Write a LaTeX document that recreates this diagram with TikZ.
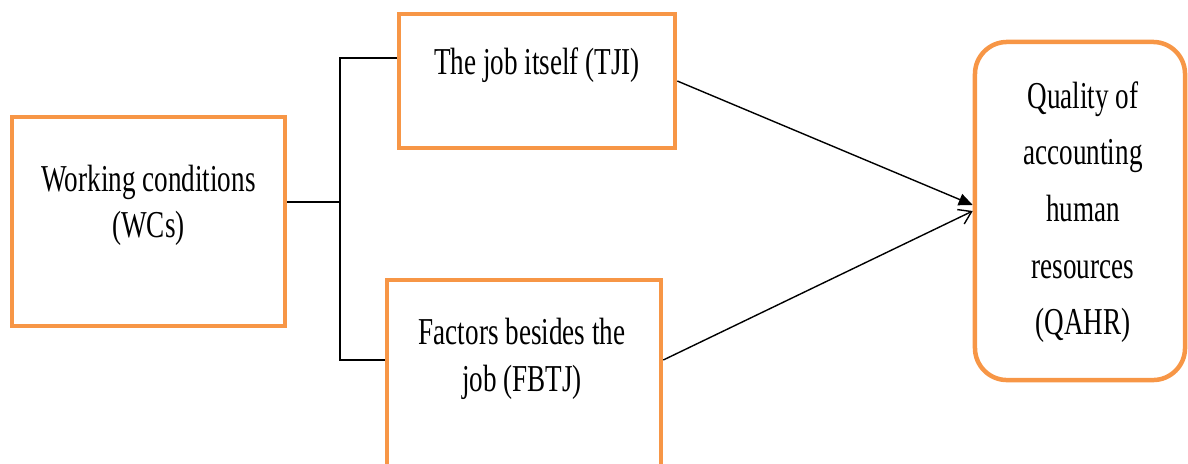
\documentclass[tikz,border=0pt]{standalone}
\usepackage{fontspec}
\setmainfont{Liberation Serif}
\usepackage{graphicx}
\usepackage{tikz}
\usetikzlibrary{arrows.meta}

\definecolor{boxorange}{RGB}{247,150,70}
\newcommand{\tallrow}[1]{\scalebox{1}[1.4]{#1}}

\begin{document}
\begin{tikzpicture}[x=0.025cm, y=-0.025cm,
		box/.style={draw=boxorange, line width=3.2pt, inner sep=0pt},
		words/.style={align=center, font=\fontsize{19.3}{32.7}\selectfont},
		link/.style={line width=1pt}]
			\clip (0,0) rectangle (1188,463);
			% boxes
			\node[box, minimum width=6.825cm, minimum height=5.225cm] (wc) at (148.5,221.5) {};
			\node[words] (wctext) at (148.5,205) {\tallrow{Working conditions}\\\tallrow{(WCs)}};
			\node[box, minimum width=6.9cm, minimum height=3.35cm] (tji) at (537,81) {};
			\node[words] (tjitext) at (537,65) {\tallrow{The job itself (TJI)}};
			\node[box, minimum width=6.85cm, minimum height=5.5cm] (fbtj) at (524,390) {};
			\node[words, font=\fontsize{19.3}{33.4}\selectfont] (fbtjtext) at (522,359) {\tallrow{Factors besides the}\\\tallrow{job (FBTJ)}};
			\node[box, rounded corners=0.8cm, minimum width=5.25cm, minimum height=8.45cm] (qahr) at (1080,211) {};
			\node[words, font=\fontsize{19.3}{40.3}\selectfont] (qahrtext) at (1083,212) {\tallrow{Quality of}\\\tallrow{accounting}\\\tallrow{human}\\\tallrow{resources}\\\tallrow{(QAHR)}};
			% connectors
			\coordinate (wcout) at ([yshift=0.49cm]wc.east);
			\coordinate (tjiin) at ([yshift=0.575cm]tji.west);
			\coordinate (fbtjin) at ([yshift=0.75cm]fbtj.west);
			\coordinate (fbtjout) at ([yshift=0.75cm]fbtj.east);
			\coordinate (split) at (wcout -| 340,0);
			\draw[link] (wcout) -- (split);
			\draw[link] (tjiin) -| (split) |- (fbtjin);
			\draw[link, -{Triangle[length=0.35cm, width=0.3cm]}] (tji.east) -- ([yshift=0.15cm]qahr.west);
			\draw[link, -{Straight Barb[length=0.3cm, width=0.4cm]}] (fbtjout) -- (qahr.west);
\end{tikzpicture}
\end{document}
